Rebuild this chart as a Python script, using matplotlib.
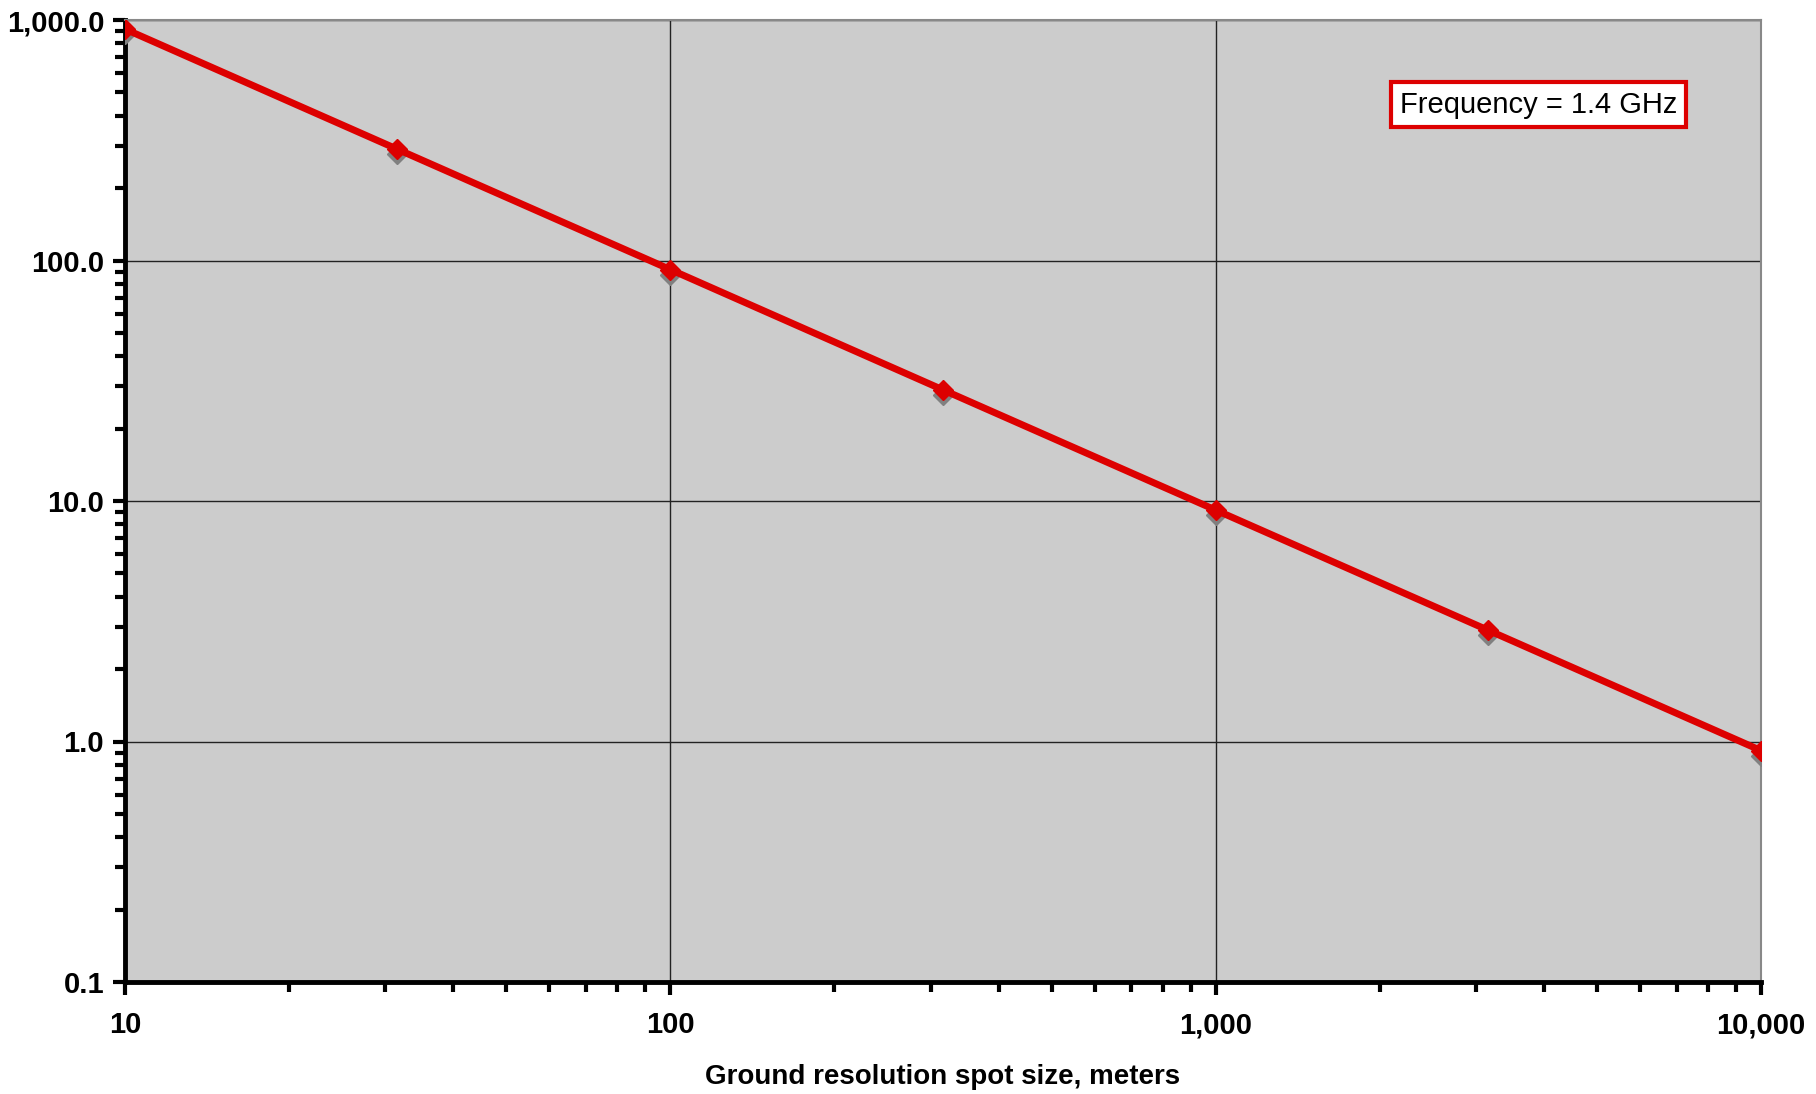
import numpy as np
import matplotlib.pyplot as plt
from matplotlib.transforms import ScaledTranslation
from matplotlib.ticker import FuncFormatter, LogLocator, NullFormatter

plt.rcParams['font.family'] = ['Liberation Sans', 'DejaVu Sans']

# Ground resolution spot size (m) vs value at 1.4 GHz
spot_size = [10, 31.6, 100, 316, 1000, 3162, 10000]
values = [917, 290, 91.7, 29.0, 9.17, 2.90, 0.917]

fig = plt.figure(figsize=(18.16, 10.94), dpi=100)
ax = fig.add_axes([125 / 1816, 1 - 982 / 1094, (1761 - 125) / 1816, (982 - 20) / 1094])
ax.set_facecolor('#cccccc')

# grey shadow under the markers
shadow = ax.transData + ScaledTranslation(0, -5 / 100, fig.dpi_scale_trans)
ax.plot(spot_size, values, linestyle='none', marker='D', ms=10, color='#808080',
        transform=shadow, zorder=3)
ax.plot(spot_size, values, color='#dd0000', lw=5, marker='D', ms=10, zorder=4)

ax.set_xscale('log')
ax.set_yscale('log')
ax.set_xlim(10, 10000)
ax.set_ylim(0.1, 1000)

ax.grid(True, which='major', color='#222222', lw=1)
ax.set_axisbelow(True)

ax.xaxis.set_major_formatter(FuncFormatter(lambda v, p: f'{v:,.0f}'))
ax.yaxis.set_major_formatter(FuncFormatter(lambda v, p: f'{v:,.1f}'))
ax.xaxis.set_minor_locator(LogLocator(base=10, subs=np.arange(2, 10)))
ax.yaxis.set_minor_locator(LogLocator(base=10, subs=np.arange(2, 10)))
ax.xaxis.set_minor_formatter(NullFormatter())
ax.yaxis.set_minor_formatter(NullFormatter())

ax.tick_params(which='both', direction='out', width=3, color='black')
ax.tick_params(which='major', length=9, labelsize=21)
ax.tick_params(axis='x', which='major', pad=12)
ax.tick_params(axis='y', which='major', pad=6)
ax.tick_params(which='minor', length=7)
for lab in ax.get_xticklabels() + ax.get_yticklabels():
    lab.set_fontweight('bold')

for s in ['left', 'bottom']:
    ax.spines[s].set_linewidth(3.5)
    ax.spines[s].set_color('black')
for s in ['top', 'right']:
    ax.spines[s].set_linewidth(1.5)
    ax.spines[s].set_color('#888888')

ax.set_xlabel('Ground resolution spot size, meters', fontsize=20, fontweight='bold', labelpad=18)

ax.text(0.864, 0.912, 'Frequency = 1.4 GHz', transform=ax.transAxes, fontsize=21,
        ha='center', va='center',
        bbox=dict(boxstyle='square,pad=0.3', facecolor='white', edgecolor='#dd0000', lw=3))

fig.savefig('out.png', dpi=100)
